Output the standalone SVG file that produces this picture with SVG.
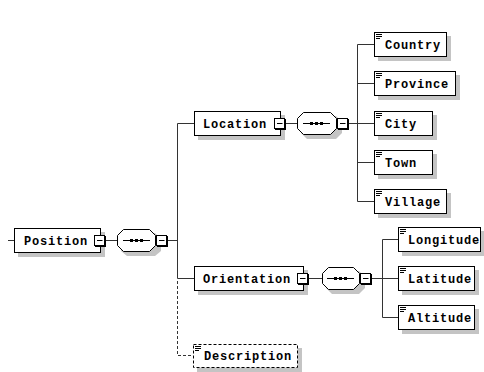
<svg xmlns="http://www.w3.org/2000/svg" width="484" height="372" viewBox="0 0 484 372">
<style>
.bg{fill:#fff}
.box{fill:#fff;stroke:#000;stroke-width:1}
.dbox{fill:#fff;stroke:#000;stroke-width:1;stroke-dasharray:3,2}
.sh{fill:#c4c4c4}
.conn{fill:none;stroke:#333;stroke-width:1}
.dash{fill:none;stroke:#333;stroke-width:1;stroke-dasharray:3,2}
.lbl{font-family:"Liberation Mono","DejaVu Sans Mono",monospace;font-weight:bold;font-size:12px;letter-spacing:0.8px;fill:#000}
.ico{fill:none;stroke:#000;stroke-width:1}
.sq{fill:#fff;stroke:#000;stroke-width:1}
.sqs{fill:#000}
.dot{fill:#000}
</style>
<defs>
<g id="minus">
<rect class="sqs" x="1" y="1" width="11" height="11"/>
<rect class="sq" x="0.5" y="0.5" width="10" height="10"/>
<path d="M3,5.5H8.5" stroke="#000" stroke-width="1"/>
</g>
<g id="icon">
<path class="ico" d="M2,2.5H8M2,4.5H8M2,6.5H6"/>
</g>
<g id="seqdots">
<path d="M6,0.5H33" stroke="#000" stroke-width="1"/>
<rect class="dot" x="13" y="-1" width="3" height="3"/>
<rect class="dot" x="18" y="-1" width="3" height="3"/>
<rect class="dot" x="23" y="-1" width="3" height="3"/>
</g>
</defs>
<rect class="bg" x="0" y="0" width="484" height="372"/>

<g id="connectors">
<path class="conn" d="M8,240.5H14"/>
<path class="conn" d="M105,240.5H117"/>
<path class="conn" d="M167,240.5H177.5"/>
<path class="conn" d="M177.5,123.5V278.5M177.5,123.5H194M177.5,278.5H194"/>
<path class="dash" d="M177.5,281V355.5H193"/>
<path class="conn" d="M285,123.5H297"/>
<path class="conn" d="M348,123.5H357.5"/>
<path class="conn" d="M357.5,44.5V201.5M357.5,44.5H374M357.5,83.5H374M357.5,123.5H374M357.5,162.5H374M357.5,201.5H374"/>
<path class="conn" d="M308,278.5H322"/>
<path class="conn" d="M371,278.5H382.5"/>
<path class="conn" d="M382.5,239.5V317.5M382.5,239.5H398M382.5,278.5H398M382.5,317.5H398"/>
</g>

<g id="Position">
<rect class="sh" x="18" y="232" width="87" height="25"/>
<rect class="box" x="14.5" y="228.5" width="86" height="24"/>
<text class="lbl" x="24" y="244.5">Position</text>
<use href="#minus" x="94" y="235"/>
</g>

<g id="seq1">
<path class="sh" d="M127,233H155L161,239V251L155,256H127L121,251V239Z"/>
<path class="box" d="M123.5,229.5H149.5L155.5,235.5V245.5L149.5,251.5H123.5L117.5,245.5V235.5Z"/>
<use href="#seqdots" x="117" y="240"/>
<use href="#minus" x="156" y="235"/>
</g>

<g id="Location">
<rect class="sh" x="198" y="115" width="87" height="25"/>
<rect class="box" x="194.5" y="111.5" width="86" height="24"/>
<text class="lbl" x="203" y="127.5">Location</text>
<use href="#minus" x="274" y="118"/>
</g>

<g id="seq2">
<path class="sh" d="M307,116H336L342,122V133L336,139H307L301,133V122Z"/>
<path class="box" d="M303.5,112.5H330.5L336.5,118.5V128.5L330.5,134.5H303.5L297.5,128.5V118.5Z"/>
<use href="#seqdots" x="297" y="123"/>
<use href="#minus" x="337" y="118"/>
</g>

<g id="Orientation">
<rect class="sh" x="198" y="270" width="110" height="25"/>
<rect class="box" x="194.5" y="266.5" width="109" height="24"/>
<text class="lbl" x="203" y="282.5">Orientation</text>
<use href="#minus" x="297" y="273"/>
</g>

<g id="seq3">
<path class="sh" d="M332,271H359L365,277V288L359,294H332L326,288V277Z"/>
<path class="box" d="M328.5,267.5H353.5L359.5,273.5V283.5L353.5,289.5H328.5L322.5,283.5V273.5Z"/>
<use href="#seqdots" x="321" y="278"/>
<use href="#minus" x="360" y="273"/>
</g>

<g id="Country">
<rect class="sh" x="378" y="36" width="73" height="25"/>
<rect class="box" x="374.5" y="32.5" width="72" height="24"/>
<use href="#icon" x="374" y="32"/>
<text class="lbl" x="385" y="48.5">Country</text>
</g>
<g id="Province">
<rect class="sh" x="378" y="75" width="82" height="25"/>
<rect class="box" x="374.5" y="71.5" width="81" height="24"/>
<use href="#icon" x="374" y="71"/>
<text class="lbl" x="385" y="87.5">Province</text>
</g>
<g id="City">
<rect class="sh" x="378" y="115" width="59" height="25"/>
<rect class="box" x="374.5" y="111.5" width="58" height="24"/>
<use href="#icon" x="374" y="111"/>
<text class="lbl" x="385" y="127.5">City</text>
</g>
<g id="Town">
<rect class="sh" x="378" y="154" width="59" height="25"/>
<rect class="box" x="374.5" y="150.5" width="58" height="24"/>
<use href="#icon" x="374" y="150"/>
<text class="lbl" x="385" y="166.5">Town</text>
</g>
<g id="Village">
<rect class="sh" x="378" y="193" width="73" height="25"/>
<rect class="box" x="374.5" y="189.5" width="72" height="24"/>
<use href="#icon" x="374" y="189"/>
<text class="lbl" x="385" y="205.5">Village</text>
</g>

<g id="Longitude">
<rect class="sh" x="402" y="231" width="82" height="25"/>
<rect class="box" x="398.5" y="227.5" width="82" height="24"/>
<use href="#icon" x="398" y="227"/>
<text class="lbl" x="408" y="243.5">Longitude</text>
</g>
<g id="Latitude">
<rect class="sh" x="402" y="270" width="77" height="25"/>
<rect class="box" x="398.5" y="266.5" width="76" height="24"/>
<use href="#icon" x="398" y="266"/>
<text class="lbl" x="408" y="282.5">Latitude</text>
</g>
<g id="Altitude">
<rect class="sh" x="402" y="309" width="77" height="25"/>
<rect class="box" x="398.5" y="305.5" width="76" height="24"/>
<use href="#icon" x="398" y="305"/>
<text class="lbl" x="408" y="321.5">Altitude</text>
</g>

<g id="Description">
<rect class="sh" x="197" y="348" width="105" height="24"/>
<rect class="dbox" x="193.5" y="344.5" width="104" height="23"/>
<use href="#icon" x="193" y="344"/>
<text class="lbl" x="204" y="360">Description</text>
</g>
</svg>
